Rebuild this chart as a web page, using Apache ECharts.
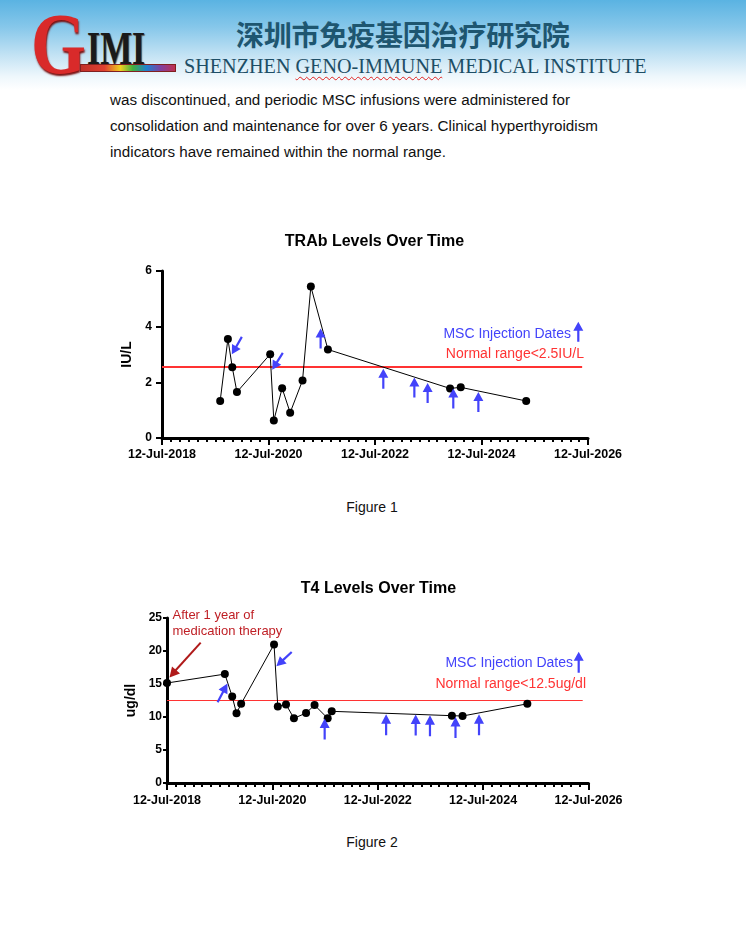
<!DOCTYPE html>
<html><head><meta charset="utf-8">
<script src="https://cdn.jsdelivr.net/npm/echarts@6/dist/echarts.min.js"></script>
<style>
html,body{margin:0;padding:0;width:746px;height:932px;overflow:hidden;background:#fff;}
#hdr{position:absolute;left:0;top:0;width:746px;height:90px;background:linear-gradient(to bottom,#5ab3e2 0%,#86c7ea 30%,#c4e3f4 62%,#eef7fc 85%,#ffffff 100%);}
.abs{position:absolute;white-space:nowrap;}
#logoG{left:31px;top:1px;font-family:"Liberation Serif";font-weight:bold;font-size:86px;line-height:86px;color:#d92a2a;text-shadow:1px 2px 2px #7a1010;transform:scaleX(0.82);transform-origin:left top;}
#logoIMI{left:87px;top:25px;font-family:"Liberation Serif";font-weight:bold;font-size:47px;line-height:47px;color:#1a1a1a;text-shadow:1px 1px 1px #666;transform:scaleX(0.72);transform-origin:left top;}
#rainbow{left:80px;top:64px;width:94px;height:6px;background:linear-gradient(to right,#c0302a 0%,#e04030 25%,#f0d020 42%,#40b040 55%,#2080d0 70%,#8040a0 85%,#c03050 100%);border:1px solid #802020;}
#cn{left:236px;top:18px;font-family:"Noto Sans CJK SC";font-weight:bold;font-size:28px;line-height:32px;color:#1e5670;letter-spacing:-0.2px;}
#en{left:184px;top:54px;font-family:"Liberation Serif";font-size:22px;line-height:24px;color:#1d4e66;transform-origin:left top;}
#en span{text-decoration:underline wavy #e02020;text-decoration-thickness:1px;text-underline-offset:3px;}
.body{left:110px;font-family:"Liberation Sans",Arial,sans-serif;font-size:15.2px;line-height:20px;color:#111;}
.cap{font-family:"Liberation Sans",Arial,sans-serif;font-size:14px;line-height:18px;color:#111;width:746px;left:0;text-align:center;}
#chart{position:absolute;left:0;top:0;width:746px;height:932px;}
</style></head>
<body>
<div id="hdr"></div>
<div class="abs" id="logoG">G</div>
<div class="abs" id="logoIMI">IMI</div>
<div class="abs" id="rainbow"></div>
<div class="abs" id="cn">深圳市免疫基因治疗研究院</div>
<div class="abs" id="en">SHENZHEN <span>GENO-IMMUNE</span> MEDICAL INSTITUTE</div>
<div class="abs body" style="top:90px">was discontinued, and periodic MSC infusions were administered for</div>
<div class="abs body" style="top:116px">consolidation and maintenance for over 6 years. Clinical hyperthyroidism</div>
<div class="abs body" style="top:142px">indicators have remained within the normal range.</div>
<div class="abs cap" style="top:498px;left:-1px">Figure 1</div>
<div class="abs cap" style="top:833px;left:-1px">Figure 2</div>
<div id="chart"></div>
<script>
// ---------- data ----------
const ORIGIN = '2018-07-12';
const xTickLabels = ['12-Jul-2018', '12-Jul-2020', '12-Jul-2022', '12-Jul-2024', '12-Jul-2026'];

const trabDates = ['2019-08-15','2019-10-07','2019-11-06','2019-12-08','2020-07-23','2020-08-17','2020-10-13','2020-12-07','2021-03-02','2021-04-28','2021-08-23','2023-12-09','2024-02-20','2025-05-14'];
const trabValues = [1.33, 3.56, 2.54, 1.65, 3.01, 0.63, 1.79, 0.91, 2.07, 5.44, 3.18, 1.78, 1.82, 1.33];

const t4Dates = ['2018-07-12','2019-08-17','2019-10-07','2019-11-06','2019-12-08','2020-07-23','2020-08-18','2020-10-14','2020-12-08','2021-03-02','2021-04-30','2021-07-30','2021-08-27','2023-12-08','2024-02-20','2025-05-14'];
const t4Values = [15.15, 16.5, 13.1, 10.56, 12.0, 21.0, 11.6, 11.9, 9.8, 10.6, 11.8, 9.8, 10.86, 10.2, 10.15, 12.0];

// MSC injection arrows (tip position, arrow angle in degrees)
const trabArrowDates = ['2019-11-03','2020-08-06','2021-07-04','2022-09-07','2023-04-08','2023-07-08','2023-12-31','2024-06-20'];
const trabArrowValues = [3.01, 2.45, 3.93, 2.49, 2.17, 1.98, 1.78, 1.65];
const trabArrowAngles = [150, 148, 0, 0, 0, 0, 0, 0];

const t4ArrowDates = ['2019-09-04','2020-08-08','2021-07-09','2022-09-08','2023-04-01','2023-07-09','2024-01-02','2024-06-13'];
const t4ArrowValues = [15.06, 17.68, 9.76, 10.41, 10.36, 10.26, 10.0, 10.41];
const t4ArrowAngles = [-28, 133, 0, 0, 0, 0, 0, 0];

const trabNormal = 2.55;
const t4Normal = 12.6;
const normalLineEnd = 7.89; // years after origin

// ---------- helpers ----------
const YEAR_MS = 365.25 * 86400000;
function toX(d) { return (Date.parse(d) - Date.parse(ORIGIN)) / YEAR_MS; }
const BLUE = '#4343fa';
const ARROW = 'path://M5,0 L10,9 L6.1,9 L6.1,20 L3.9,20 L3.9,9 L0,9 Z';

function arrowData(dates, values, angles, len) {
  return dates.map((d, i) => {
    const r = angles[i] * Math.PI / 180;
    return {
      value: [toX(d), values[i]],
      symbolRotate: angles[i],
      symbolOffset: [Math.sin(r) * len / 2, Math.cos(r) * len / 2]
    };
  });
}
function arrowPoly(x, y, len) {
  return [[x, y], [x + 5, y + 9], [x + 1.1, y + 9], [x + 1.1, y + len], [x - 1.1, y + len], [x - 1.1, y + 9], [x - 5, y + 9]];
}

const FONT = '"Liberation Sans", Arial, sans-serif';
function xAxisCfg(gi, margin) {
  return {
    type: 'value', gridIndex: gi, min: 0, max: 8, interval: 2,
    axisLine: { show: true, lineStyle: { color: '#000', width: 3 } },
    axisTick: { show: true, length: 7, lineStyle: { color: '#000', width: 2 } },
    minorTick: { show: true, splitNumber: 12, length: 4, lineStyle: { color: '#000', width: 2 } },
    splitLine: { show: false }, minorSplitLine: { show: false },
    axisLabel: { margin: margin, color: '#000', fontWeight: 'bold', fontSize: 12.5, fontFamily: FONT,
      formatter: v => xTickLabels[Math.round(v / 2)] }
  };
}
function yAxisCfg(gi, max, interval, name, gap, tickLen, margin) {
  return {
    type: 'value', gridIndex: gi, min: 0, max: max, interval: interval,
    name: name, nameLocation: 'middle', nameGap: gap, nameRotate: 90,
    nameTextStyle: { color: '#000', fontWeight: 'bold', fontSize: 14, fontFamily: FONT },
    axisLine: { show: true, lineStyle: { color: '#000', width: 3 } },
    axisTick: { show: true, length: tickLen, lineStyle: { color: '#000', width: 2 } },
    splitLine: { show: false },
    axisLabel: { margin: margin, color: '#000', fontWeight: 'bold', fontSize: 12, fontFamily: FONT }
  };
}
function text(x, y, str, color, size, align, weight) {
  return { type: 'text', x: x, y: y, z: 100, style: { text: str, fill: color, font: (weight || 'normal') + ' ' + size + 'px ' + FONT,
    textAlign: align, align: align, textVerticalAlign: 'middle', verticalAlign: 'middle' } };
}

const chart = echarts.init(document.getElementById('chart'), null, { width: 746, height: 932 });
chart.setOption({
  animation: false,
  grid: [
    { left: 162, top: 271, width: 426, height: 167 },
    { left: 167, top: 618, width: 421.5, height: 165 }
  ],
  xAxis: [xAxisCfg(0, 10), xAxisCfg(1, 11)],
  yAxis: [yAxisCfg(0, 6, 2, 'IU/L', 23, 6, 10), yAxisCfg(1, 25, 5, 'ug/dl', 28, 4, 5)],
  series: [
    {
      type: 'line', xAxisIndex: 0, yAxisIndex: 0, z: 3,
      data: trabDates.map((d, i) => [toX(d), trabValues[i]]),
      symbol: 'circle', symbolSize: 8,
      itemStyle: { color: '#000' }, lineStyle: { color: '#000', width: 1 },
      markLine: { silent: true, symbol: 'none', label: { show: false }, z: 2,
        lineStyle: { color: '#ff3333', width: 2, type: 'solid' },
        data: [[{ coord: [0, trabNormal] }, { coord: [normalLineEnd, trabNormal] }]] }
    },
    {
      type: 'scatter', xAxisIndex: 0, yAxisIndex: 0, z: 4,
      symbol: ARROW, symbolSize: [10, 20], itemStyle: { color: BLUE, opacity: 1 },
      data: arrowData(trabArrowDates, trabArrowValues, trabArrowAngles, 20)
    },
    {
      type: 'line', xAxisIndex: 1, yAxisIndex: 1, z: 3,
      data: t4Dates.map((d, i) => [toX(d), t4Values[i]]),
      symbol: 'circle', symbolSize: 8,
      itemStyle: { color: '#000' }, lineStyle: { color: '#000', width: 1 },
      markLine: { silent: true, symbol: 'none', label: { show: false }, z: 2,
        lineStyle: { color: '#ff3333', width: 1, type: 'solid' },
        data: [[{ coord: [0, t4Normal] }, { coord: [normalLineEnd, t4Normal] }]] }
    },
    {
      type: 'scatter', xAxisIndex: 1, yAxisIndex: 1, z: 4,
      symbol: ARROW, symbolSize: [10, 21], itemStyle: { color: BLUE, opacity: 1 },
      data: arrowData(t4ArrowDates, t4ArrowValues, t4ArrowAngles, 21)
    }
  ],
  graphic: [
    text(374.5, 242, 'TRAb Levels Over Time', '#000', 16, 'center', 'bold'),
    text(378.5, 589, 'T4 Levels Over Time', '#000', 16, 'center', 'bold'),
    text(571, 334, 'MSC Injection Dates', BLUE, 14, 'right'),
    { type: 'polygon', z: 100, shape: { points: arrowPoly(578.3, 321.7, 20) }, style: { fill: BLUE } },
    text(584, 354.5, 'Normal range<2.5IU/L', '#ff3333', 14, 'right'),
    text(573, 663.5, 'MSC Injection Dates', BLUE, 14, 'right'),
    { type: 'polygon', z: 100, shape: { points: arrowPoly(578.7, 651.7, 21) }, style: { fill: BLUE } },
    text(586, 684, 'Normal range<12.5ug/dl', '#ff3333', 14, 'right'),
    text(172.5, 615, 'After 1 year of', '#bf1e24', 13, 'left'),
    text(172.5, 631.5, 'medication therapy', '#bf1e24', 13, 'left'),
    { type: 'line', z: 100, shape: { x1: 200.7, y1: 642.7, x2: 175, y2: 671 }, style: { stroke: '#b01a1a', lineWidth: 2 } },
    { type: 'polygon', z: 100, shape: { points: [[169.5, 677.5], [172, 666.5], [180, 673.5]] }, style: { fill: '#b01a1a' } }
  ]
});

// fit English header line to its width in the reference
const en = document.getElementById('en');
en.style.transform = 'scaleX(' + (463 / en.offsetWidth) + ')';
</script>
</body></html>
